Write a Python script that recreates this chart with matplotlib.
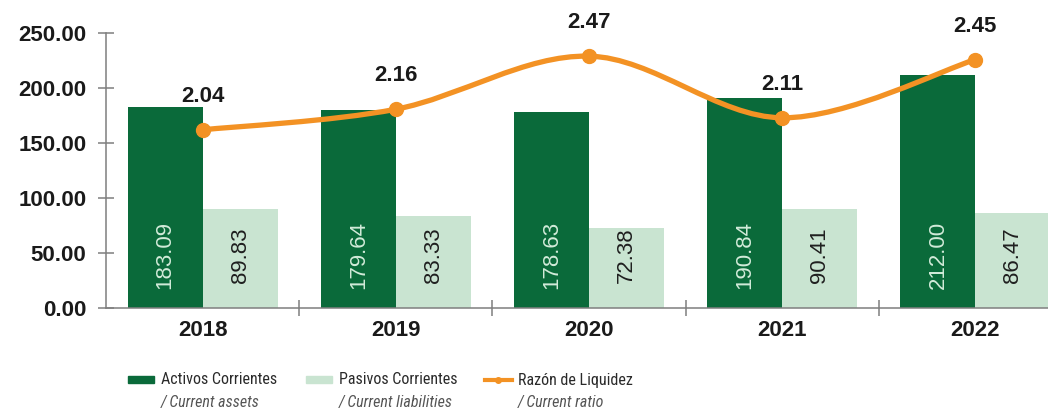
import numpy as np
import matplotlib.pyplot as plt
from matplotlib.path import Path
from matplotlib.patches import PathPatch, Rectangle
from matplotlib.lines import Line2D

years = ['2018', '2019', '2020', '2021', '2022']
activos = [183.09, 179.64, 178.63, 190.84, 212.00]
pasivos = [89.83, 83.33, 72.38, 90.41, 86.47]
razon = [2.04, 2.16, 2.47, 2.11, 2.45]

dark_green = '#0a6a3a'
light_green = '#c9e4d1'
orange = '#f39224'
spine_gray = '#7f7f7f'

plt.rcParams['font.family'] = ['Liberation Sans', 'DejaVu Sans']

fig = plt.figure(figsize=(10.48, 4.16), dpi=100)
ax = fig.add_axes([106 / 1048, 108 / 416, 966 / 1048, 275 / 416])

x = np.arange(len(years))
w = 0.388
ax.bar(x - w / 2, activos, w, color=dark_green, zorder=2)
ax.bar(x + w / 2, pasivos, w, color=light_green, zorder=2)

# values written inside the bars
for i in range(len(years)):
    ax.text(x[i] - w / 2, 48, '%.2f' % activos[i], rotation=90, ha='center', va='center',
            fontsize=16, color='#d2ebd9', zorder=3)
    ax.text(x[i] + w / 2, 48, '%.2f' % pasivos[i], rotation=90, ha='center', va='center',
            fontsize=16, color='#1f1f1f', zorder=3)

ax.set_xlim(-0.5, 4.5)
ax.set_ylim(0, 250)
ax.set_yticks(np.arange(0, 251, 50))
ax.set_yticklabels(['%.2f' % v for v in np.arange(0, 251, 50)], fontsize=16,
                   fontweight='bold', color='#1a1a1a')
ax.set_xticks(x)
ax.set_xticklabels(years, fontsize=16, fontweight='bold', color='#1a1a1a')
ax.set_xticks(x[:-1] + 0.5, minor=True)
ax.tick_params(axis='x', which='major', length=0, pad=9)
ax.tick_params(axis='x', which='minor', length=11, direction='inout', color=spine_gray, width=1.1)
ax.tick_params(axis='y', length=12, direction='inout', color=spine_gray, width=1.1, pad=8)
for s in ['top', 'right']:
    ax.spines[s].set_visible(False)
for s in ['left', 'bottom']:
    ax.spines[s].set_color(spine_gray)
    ax.spines[s].set_linewidth(1.1)

# ratio on a hidden second scale
ax2 = ax.twinx()
ax2.set_ylim(1.0, 2.605)
ax2.axis('off')

# smoothed line (Catmull-Rom through the points)
pts = np.column_stack([x, razon]).astype(float)
ext = np.vstack([pts[0], pts, pts[-1]])
verts = [tuple(pts[0])]
codes = [Path.MOVETO]
for i in range(len(pts) - 1):
    p0, p1, p2, p3 = ext[i], ext[i + 1], ext[i + 2], ext[i + 3]
    c1 = p1 + (p2 - p0) / 6
    c2 = p2 - (p3 - p1) / 6
    verts += [tuple(c1), tuple(c2), tuple(p2)]
    codes += [Path.CURVE4] * 3
ax2.add_patch(PathPatch(Path(verts, codes), fill=False, edgecolor=orange, lw=3.8,
                        capstyle='round', joinstyle='round', zorder=4))
ax2.plot(x, razon, 'o', color=orange, markersize=10, zorder=5)
for i in range(len(years)):
    ax2.annotate('%.2f' % razon[i], (x[i], razon[i]), xytext=(0, 24), textcoords='offset points',
                 ha='center', va='center', fontsize=16, fontweight='bold', color='#1a1a1a')

# legend drawn by hand: two lines of text per entry
narrow = ['Roboto Condensed', 'Liberation Sans Narrow', 'DejaVu Sans']
items = [(128, 'patch', dark_green, 'Activos Corrientes', '/ Current assets'),
         (306, 'patch', light_green, 'Pasivos Corrientes', '/ Current liabilities'),
         (485, 'line', orange, 'Razón de Liquidez', '/ Current ratio')]
y1 = 1 - 380 / 416
y2 = 1 - 403 / 416
for px, kind, col, main, sub in items:
    x0 = px / 1048
    if kind == 'patch':
        fig.patches.append(Rectangle((x0, y1 - 3 / 416), 26 / 1048, 7 / 416, color=col,
                                     transform=fig.transFigure, figure=fig))
    else:
        fig.lines.append(Line2D([x0, x0 + 27 / 1048], [y1, y1], color=col, lw=3,
                                transform=fig.transFigure, figure=fig))
        fig.lines.append(Line2D([x0 + 13.5 / 1048], [y1], marker='o', markersize=4, color=col,
                                transform=fig.transFigure, figure=fig))
    tx = x0 + 33 / 1048
    fig.text(tx, y1, main, family=narrow, stretch='condensed', fontsize=11.5,
             color='#2a2a2a', va='center')
    fig.text(tx, y2, sub, family=narrow, stretch='condensed', fontsize=11.5, style='italic',
             color='#555555', va='center')

fig.savefig('out.png', dpi=100)
